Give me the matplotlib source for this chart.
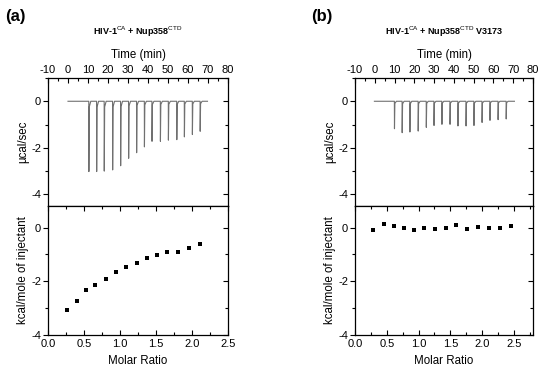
import numpy as np
import matplotlib
matplotlib.use('Agg')
import matplotlib.pyplot as plt
from matplotlib.ticker import MultipleLocator, FuncFormatter, FormatStrFormatter

plt.rcParams['font.family'] = ['Liberation Sans', 'DejaVu Sans']
plt.rcParams['mathtext.fontset'] = 'custom'
plt.rcParams['mathtext.rm'] = 'Liberation Sans'
plt.rcParams['axes.linewidth'] = 0.9
plt.rcParams['axes.unicode_minus'] = False

# ---- panel (a): HIV-1 CA + Nup358 CTD ----
inj_time_a = [10.4, 14.3, 18.1, 22.3, 26.3, 30.3, 34.3, 38.2, 42.0, 46.2, 50.2, 54.4, 58.2, 62.2, 66.1]
peak_a = [-3.02, -3.02, -3.00, -2.95, -2.77, -2.45, -2.21, -1.96, -1.72, -1.72, -1.67, -1.65, -1.53, -1.43, -1.29]
base_a = [0.0, 69.8]
ratio_a = [0.26, 0.40, 0.53, 0.66, 0.80, 0.94, 1.08, 1.23, 1.37, 1.51, 1.66, 1.81, 1.96, 2.11]
heat_a = [-3.07, -2.74, -2.33, -2.15, -1.90, -1.66, -1.48, -1.31, -1.14, -1.04, -0.93, -0.91, -0.76, -0.63]

# ---- panel (b): HIV-1 CA + Nup358 CTD V3173 ----
inj_time_b = [9.9, 13.8, 17.7, 21.9, 26.0, 29.9, 33.9, 38.0, 42.0, 46.1, 50.1, 54.2, 58.2, 62.3, 66.4]
peak_b = [-1.18, -1.35, -1.32, -1.28, -1.12, -1.04, -0.99, -0.99, -1.06, -1.06, -1.04, -0.91, -0.82, -0.79, -0.76]
base_b = [-0.2, 70.6]
ratio_b = [0.29, 0.45, 0.62, 0.77, 0.93, 1.09, 1.26, 1.43, 1.59, 1.76, 1.93, 2.10, 2.28, 2.46]
heat_b = [-0.08, 0.12, 0.07, 0.0, -0.09, 0.0, -0.05, 0.0, 0.09, -0.04, 0.03, 0.0, 0.0, 0.04]

titles = [r'HIV-1$^{\mathrm{CA}}$ + Nup358$^{\mathrm{CTD}}$',
          r'HIV-1$^{\mathrm{CA}}$ + Nup358$^{\mathrm{CTD}}$ V3173']
letters = ['(a)', '(b)']


def trace(times, peaks, base):
    # thermogram: flat baseline with a sharp dip at every injection
    xs = [base[0]]
    ys = [0.0]
    for t, d in zip(times, peaks):
        xs += [t, t + 0.05, t + 0.25, t + 1.0]
        ys += [0.0, d, 0.08 * d, 0.0]
    xs.append(base[1])
    ys.append(0.0)
    return xs, ys


def style(ax, ymajor, yminor, xmajor, xminor):
    ax.xaxis.set_major_locator(MultipleLocator(xmajor))
    ax.xaxis.set_minor_locator(MultipleLocator(xminor))
    ax.yaxis.set_major_locator(MultipleLocator(ymajor))
    ax.yaxis.set_minor_locator(MultipleLocator(yminor))
    ax.tick_params(axis='y', which='both', left=True, right=False, direction='out', labelsize=8, pad=1.5)
    ax.tick_params(axis='y', which='major', length=3.5, width=0.8)
    ax.tick_params(axis='y', which='minor', length=2, width=0.8)
    sec = ax.secondary_yaxis('right')
    sec.yaxis.set_major_locator(MultipleLocator(ymajor))
    sec.yaxis.set_minor_locator(MultipleLocator(yminor))
    sec.tick_params(which='both', direction='in', labelright=False, width=0.8)
    sec.tick_params(which='major', length=3.5)
    sec.tick_params(which='minor', length=2)
    sec.spines['right'].set_visible(False)
    ax.yaxis.set_major_formatter(FuncFormatter(lambda v, p: '%g' % v))


fig = plt.figure(figsize=(5.5, 3.73), dpi=100)

lefts = [0.0873, 0.6455]
widths = [0.327, 0.3236]
letter_x = [0.009, 0.565]
panels = [(inj_time_a, peak_a, base_a, ratio_a, heat_a, 2.5),
          (inj_time_b, peak_b, base_b, ratio_b, heat_b, 2.8)]

for i, (tm, pk, bs, rt, ht, xmax) in enumerate(panels):
    ax1 = fig.add_axes([lefts[i], 0.4477, widths[i], 0.3432])
    ax2 = fig.add_axes([lefts[i], 0.1019, widths[i], 0.3458])

    xs, ys = trace(tm, pk, bs)
    ax1.plot(xs, ys, color='#707070', lw=0.8)
    ax1.set_xlim(-10, 80)
    ax1.set_ylim(-4.5, 1)
    style(ax1, 2, 1, 10, 5)
    ax1.tick_params(axis='x', which='both', top=True, bottom=False, labeltop=True,
                    labelbottom=False, direction='in', labelsize=8, pad=2, width=0.8)
    ax1.tick_params(axis='x', which='major', length=3.5)
    ax1.tick_params(axis='x', which='minor', length=2)
    ax1.xaxis.set_label_position('top')
    ax1.set_xlabel('Time (min)', fontsize=8.3, labelpad=5)
    ax1.set_ylabel('µcal/sec', fontsize=8.3, labelpad=1.5)

    ax2.plot(rt, ht, 's', color='black', ms=3.4, mew=0)
    ax2.set_xlim(0, xmax)
    ax2.set_ylim(-4, 0.8)
    style(ax2, 2, 1, 0.5, 0.25)
    ax2.tick_params(axis='x', which='both', top=True, bottom=True, direction='in',
                    labelsize=8, pad=3, width=0.8)
    ax2.tick_params(axis='x', which='major', length=3.5)
    ax2.tick_params(axis='x', which='minor', length=2.5)
    ax2.xaxis.set_major_formatter(FormatStrFormatter('%.1f'))
    ax2.set_xlabel('Molar Ratio', fontsize=8.3, labelpad=4)
    ax2.set_ylabel('kcal/mole of injectant', fontsize=8.3, labelpad=1.5)

    fig.text(lefts[i] + widths[i] / 2, 0.914, titles[i], fontsize=6.5,
             fontweight='bold', ha='center', va='center')
    fig.text(letter_x[i], 0.955, letters[i], fontsize=12, fontweight='bold',
             va='center', ha='left')

fig.savefig('out.png', dpi=100)
